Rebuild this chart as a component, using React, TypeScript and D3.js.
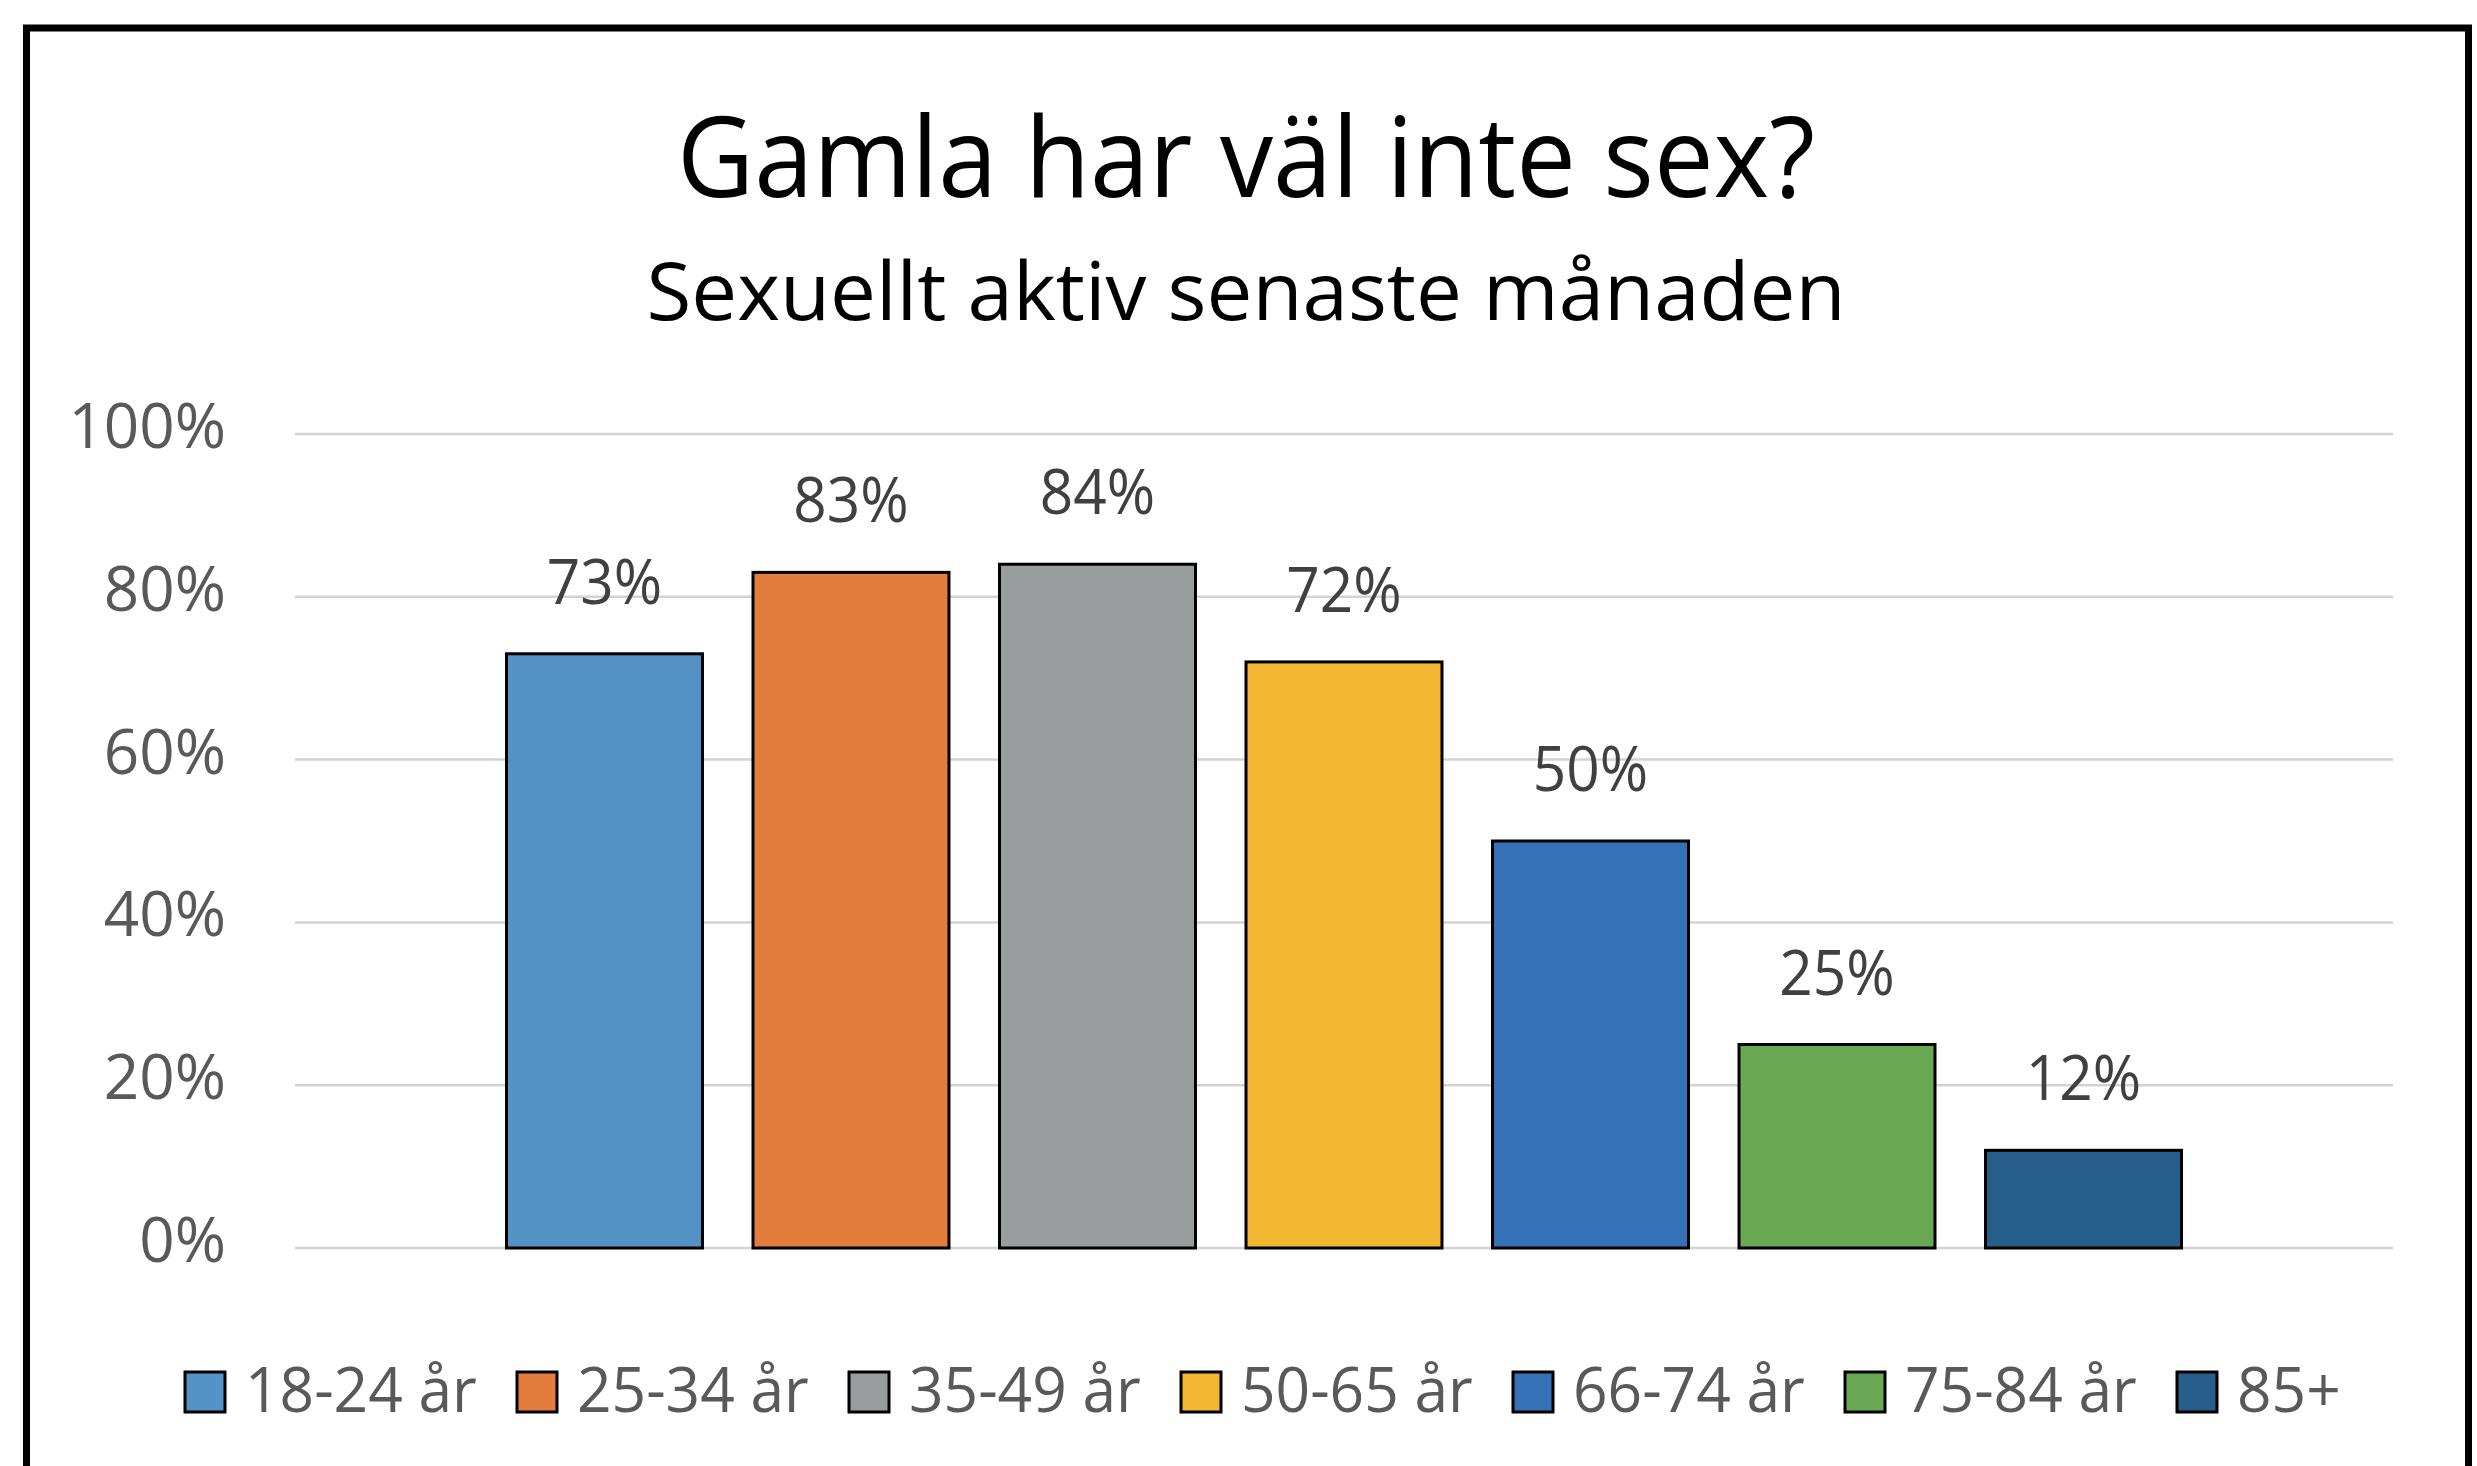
// Grouped bar chart: sexual activity last month by age group.

import * as d3 from "d3";

const title = "Gamla har väl inte sex?";
const subtitle = "Sexuellt aktiv senaste månaden";

const groups = [
  "18-24 år",
  "25-34 år",
  "35-49 år",
  "50-65 år",
  "66-74 år",
  "75-84 år",
  "85+",
];
const values = [0.73, 0.83, 0.84, 0.72, 0.5, 0.25, 0.12];
const colors = [
  "#5592C6",
  "#E27D3D",
  "#9A9D9E",
  "#F2B731",
  "#3670B7",
  "#6AA954",
  "#255F8A",
];
const yTicks = [0, 0.2, 0.4, 0.6, 0.8, 1];

const FONT = "'Open Sans', sans-serif";

export default function App() {
  const width = 2477;
  const height = 1466;
  const [plotLeft, plotRight, plotTop, plotBottom] = [295, 2393, 434, 1248];

  const x = d3
    .scaleBand<string>()
    .domain(groups)
    .range([plotLeft, plotRight])
    .paddingInner(0.205)
    .paddingOuter(0.858);
  const y = d3.scaleLinear([0, 1], [plotBottom, plotTop]);
  const pct = d3.format(".0%");

  const legendX0 = 185;
  const legendStep = 332;
  const legendY = 1392;

  return (
    <svg
      width={width}
      height={height}
      style={{ position: "absolute", left: 0, top: 0, background: "#fff" }}
      fontFamily={FONT}
    >
      <title>Sexuellt aktiv senaste månaden</title>
      <rect
        x={26.5}
        y={28}
        width={2442}
        height={1500}
        fill="#fff"
        stroke="#000"
        strokeWidth={7}
      />

      <text
        x={1246}
        y={197}
        textAnchor="middle"
        fontSize={112}
        textLength={1138}
        lengthAdjust="spacingAndGlyphs"
        fill="#000"
      >
        {title}
      </text>
      <text
        x={1246}
        y={320}
        textAnchor="middle"
        fontSize={80}
        textLength={1199}
        lengthAdjust="spacingAndGlyphs"
        fill="#000"
      >
        {subtitle}
      </text>

      {/* gridlines and y labels */}
      <g>
        {yTicks.map((t) => (
          <g key={t}>
            <line
              x1={plotLeft}
              x2={plotRight}
              y1={y(t)}
              y2={y(t)}
              stroke="#D3D3D3"
              strokeWidth={2.5}
            />
            <text
              x={226}
              y={y(t) + 14}
              textAnchor="end"
              fontSize={62}
              fill="#595959"
            >
              {pct(t)}
            </text>
          </g>
        ))}
      </g>

      {/* bars */}
      <g stroke="#000" strokeWidth={3}>
        {groups.map((g, i) => (
          <rect
            key={g}
            x={x(g)}
            y={y(values[i])}
            width={x.bandwidth()}
            height={y(0) - y(values[i])}
            fill={colors[i]}
          />
        ))}
      </g>

      {/* data labels */}
      <g fill="#404040" fontSize={63}>
        {groups.map((g, i) => (
          <text
            key={g}
            transform={`translate(${(x(g) ?? 0) + x.bandwidth() / 2}, ${
              y(values[i]) - 50
            }) scale(0.93, 1)`}
            textAnchor="middle"
          >
            {pct(values[i])}
          </text>
        ))}
      </g>

      {/* legend */}
      <g>
        {groups.map((g, i) => (
          <g key={g} transform={`translate(${legendX0 + i * legendStep}, 0)`}>
            <rect
              x={0}
              y={legendY - 20}
              width={40}
              height={40}
              fill={colors[i]}
              stroke="#000"
              strokeWidth={3}
            />
            <text
              transform={`translate(60, ${legendY + 20}) scale(0.96, 1)`}
              fontSize={63}
              fill="#595959"
            >
              {g}
            </text>
          </g>
        ))}
      </g>
    </svg>
  );
}
